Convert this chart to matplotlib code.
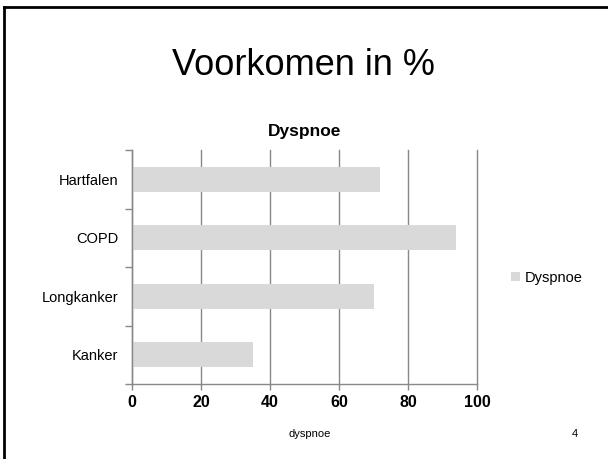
import matplotlib
matplotlib.use("Agg")
import matplotlib.pyplot as plt
from matplotlib.lines import Line2D
from matplotlib.ticker import FixedLocator

categories = ["Hartfalen", "COPD", "Longkanker", "Kanker"]
values = [72, 94, 70, 35]
series_name = "Dyspnoe"
x_ticks = [0, 20, 40, 60, 80, 100]

plt.rcParams['font.family'] = ['Liberation Sans', 'DejaVu Sans']

fig = plt.figure(figsize=(6.08, 4.59), dpi=100)
W, H = 608, 459

# slide border (left & top)
fig.add_artist(Line2D([4/W, 4/W], [0, 1 - 7/H], color='black', lw=2, transform=fig.transFigure))
fig.add_artist(Line2D([4/W, 1], [1 - 7/H, 1 - 7/H], color='black', lw=2, transform=fig.transFigure))

fig.text(303/W, 1 - 66/H, "Voorkomen in %", ha='center', va='center', fontsize=26)

ax = fig.add_axes([132/W, 1 - 384/H, (477-132)/W, (384-150)/H])
n = len(categories)
ypos = list(range(n - 1, -1, -1))
ax.barh(ypos, values, height=0.43, color='#d9d9d9', label=series_name, zorder=2)

ax.set_xlim(0, 100)
ax.set_ylim(-0.5, n - 0.5)
ax.set_xticks(x_ticks)
ax.set_xticklabels([str(t) for t in x_ticks], fontsize=11.5, fontweight='bold')
ax.set_yticks(ypos)
ax.set_yticklabels(categories, fontsize=10.5)
ax.tick_params(axis='y', which='major', length=0, pad=10)
ax.yaxis.set_minor_locator(FixedLocator([i - 0.5 for i in range(n + 1)]))
ax.tick_params(axis='y', which='minor', length=5, color='#888888', width=1, direction='out')
ax.tick_params(axis='x', which='major', length=4, color='#888888', width=1, direction='out', pad=4)
ax.grid(axis='x', color='#888888', lw=1, zorder=1)
for gl in ax.get_xgridlines():
    gl.set_clip_on(False)
for s in ['top', 'right']:
    ax.spines[s].set_visible(False)
for s in ['left', 'bottom']:
    ax.spines[s].set_color('#888888')
    ax.spines[s].set_linewidth(1)

ax.set_title(series_name, fontsize=12.5, fontweight='bold', pad=10)

fig.legend(loc='center left', bbox_to_anchor=(498/W, 1 - 278/H), frameon=False,
           fontsize=10.5, handlelength=0.6, handleheight=0.6, handletextpad=0.3)

fig.text(310/W, 1 - 434/H, "dyspnoe", ha='center', va='center', fontsize=8)
fig.text(575/W, 1 - 434/H, "4", ha='center', va='center', fontsize=8)

fig.savefig("out.png", dpi=100)
